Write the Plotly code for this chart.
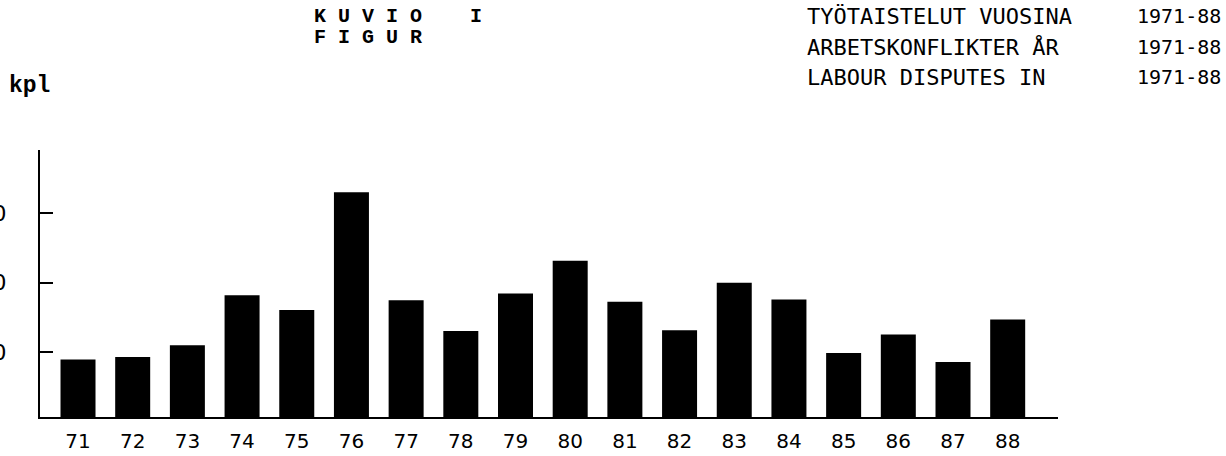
import plotly.graph_objects as go

# Data (labour disputes per year, kpl)
years = ["71", "72", "73", "74", "75", "76", "77", "78", "79",
         "80", "81", "82", "83", "84", "85", "86", "87", "88"]
disputes = [890, 928, 1097, 1819, 1603, 3303, 1747, 1303, 1844,
            2315, 1723, 1314, 1997, 1757, 986, 1251, 855, 1468]
ytick_vals = [1000, 2000, 3000]
ytick_text = ["1000", "2000", "3000"]

title_fi = "TYÖTAISTELUT VUOSINA"
title_sv = "ARBETSKONFLIKTER ÅR"
title_en = "LABOUR DISPUTES IN"
period = "1971-88"

fig = go.Figure(go.Bar(
    x=years, y=disputes,
    marker=dict(color="black", line=dict(width=0)),
    hoverinfo="x+y",
))

W, H = 1226, 456
L, R, T, B = 40, 168, 150, 39
fig.update_layout(
    width=W, height=H,
    margin=dict(l=L, r=R, t=T, b=B, autoexpand=False),
    paper_bgcolor="white", plot_bgcolor="white",
    bargap=0.36, showlegend=False,
    font=dict(family="DejaVu Sans", color="black"),
)
fig.update_xaxes(
    type="category", range=[-0.695, 17.92], automargin=False,
    showline=True, linecolor="black", linewidth=2,
    showgrid=False, zeroline=False, ticks="",
    tickfont=dict(family="DejaVu Sans", size=20, color="black"),
    ticklabelstandoff=5,
)
fig.update_yaxes(
    range=[61, 3913], automargin=False,
    showline=True, linecolor="black", linewidth=2,
    showgrid=False, zeroline=False,
    ticks="inside", ticklen=13, tickwidth=2, tickcolor="black",
    tickvals=ytick_vals, ticktext=ytick_text,
    tickfont=dict(family="DejaVu Sans", size=22, color="black"),
    ticklabelstandoff=27,
)

mono = "Liberation Mono"
hdr = "DejaVu Sans Mono"
ann = []
ann.append(dict(text="<b>K U V I O    I</b>", x=312, y=16, xa="left", font=dict(family=mono, size=20)))
ann.append(dict(text="<b>F I G U R</b>", x=312, y=37, xa="left", font=dict(family=mono, size=20)))
ann.append(dict(text="<b>kpl</b>", x=7, y=86, xa="left", font=dict(family=mono, size=23)))
for i, t in enumerate([title_fi, title_sv, title_en]):
    yy = 16 + 30.5 * i
    ann.append(dict(text=t, x=805, y=yy, xa="left", font=dict(family=hdr, size=22)))
    ann.append(dict(text=period, x=1223, y=yy, xa="right", font=dict(family=hdr, size=20)))

pw, ph = W - L - R, H - T - B
for a in ann:
    fig.add_annotation(
        text=a["text"], x=(a["x"] - L) / pw, y=(H - B - a["y"]) / ph,
        xref="paper", yref="paper", xanchor=a["xa"], yanchor="middle",
        showarrow=False, font=dict(color="black", **a["font"]),
    )

fig.write_html("out.html", config={"displayModeBar": False},
               post_script="document.body.style.margin='0';")
